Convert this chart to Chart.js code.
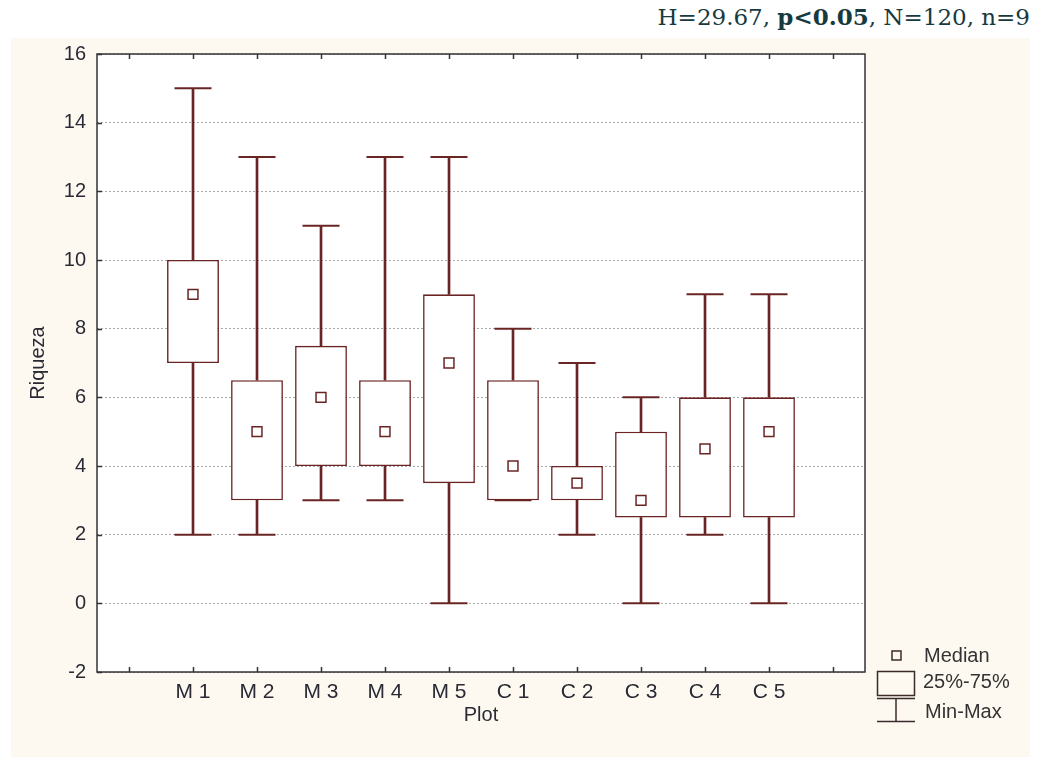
<!DOCTYPE html>
<html>
<head>
<meta charset="utf-8">
<script src="https://cdn.jsdelivr.net/npm/chart.js@4/dist/chart.umd.min.js"></script>
<style>
  html, body { margin: 0; padding: 0; background: #ffffff; }
  #wrap { position: relative; width: 1041px; height: 757px; overflow: hidden; }
  #panel { position: absolute; left: 11px; top: 38px; width: 1019px; height: 719px; background: #fdf9f1; }
  #stats { position: absolute; right: 11px; top: 3px; font-family: "DejaVu Serif", "Liberation Serif", serif;
           font-size: 23px; color: #173a40; white-space: nowrap; }
  #stats b { font-weight: bold; }
  canvas { position: absolute; left: 0; top: 0; }
</style>
</head>
<body>
<div id="wrap">
  <div id="panel"></div>
  <div id="stats">H=29.67, <b>p&lt;0.05</b>, N=120, n=9</div>
  <canvas id="c" width="1041" height="757"></canvas>
</div>
<script>
// Plots sampled and the richness summary for each one
const plots   = ['M 1', 'M 2', 'M 3', 'M 4', 'M 5', 'C 1', 'C 2', 'C 3', 'C 4', 'C 5'];
const mins    = [2, 2, 3, 3, 0, 3, 2, 0, 2, 0];
const q1      = [7, 3, 4, 4, 3.5, 3, 3, 2.5, 2.5, 2.5];
const medians = [9, 5, 6, 5, 7, 4, 3.5, 3, 4.5, 5];
const q3      = [10, 6.5, 7.5, 6.5, 9, 6.5, 4, 5, 6, 6];
const maxs    = [15, 13, 11, 13, 13, 8, 7, 6, 9, 9];
const yTicks  = [-2, 0, 2, 4, 6, 8, 10, 12, 14, 16];

// one empty slot on each side of the plots
const labels = ['', ...plots, ''];
const pad = arr => [null, ...arr, null];

const INK = '#6a2424';
const FRAME = '#333333';
const TEXT = '#2a2a35';
const FONT = 'Liberation Sans, Arial, sans-serif';

const boxData   = pad(plots.map((_, i) => [q1[i], q3[i]]));
const lowWhisk  = pad(plots.map((_, i) => [mins[i], q1[i]]));
const highWhisk = pad(plots.map((_, i) => [q3[i], maxs[i]]));

const plotBackground = {
  id: 'plotBackground',
  beforeDraw(chart) {
    const { ctx, chartArea: a } = chart;
    ctx.save();
    ctx.fillStyle = '#ffffff';
    ctx.fillRect(a.left, a.top, a.right - a.left, a.bottom - a.top);
    ctx.restore();
  }
};

const frameAndTicks = {
  id: 'frameAndTicks',
  afterDraw(chart) {
    const { ctx, chartArea: a, scales: { x, y } } = chart;
    ctx.save();
    ctx.strokeStyle = FRAME;
    ctx.lineWidth = 1.5;
    ctx.strokeRect(a.left, a.top, a.right - a.left, a.bottom - a.top);
    ctx.beginPath();
    x.ticks.forEach((t, i) => {
      const px = Math.round(x.getPixelForTick(i)) + 0.5;
      ctx.moveTo(px, a.bottom); ctx.lineTo(px, a.bottom - 5);
      ctx.moveTo(px, a.top);    ctx.lineTo(px, a.top + 5);
    });
    y.ticks.forEach((t, i) => {
      const py = Math.round(y.getPixelForTick(i)) + 0.5;
      ctx.moveTo(a.left, py); ctx.lineTo(a.left + 5, py);
    });
    ctx.stroke();
    ctx.restore();
  }
};

const keyBox = {
  id: 'keyBox',
  afterDraw(chart) {
    const { ctx } = chart;
    ctx.save();
    ctx.strokeStyle = '#3b2b2b';
    ctx.lineWidth = 1.5;
    // median marker
    ctx.strokeRect(892, 651, 9, 9);
    // interquartile box
    ctx.strokeRect(877.5, 671.5, 37, 24);
    // min-max whisker
    ctx.beginPath();
    ctx.moveTo(877, 698.5); ctx.lineTo(915, 698.5);
    ctx.moveTo(896, 698.5); ctx.lineTo(896, 721.5);
    ctx.moveTo(877, 721.5); ctx.lineTo(915, 721.5);
    ctx.stroke();
    ctx.fillStyle = '#333333';
    ctx.font = '20px ' + FONT;
    ctx.textBaseline = 'middle';
    ctx.fillText('Median', 924, 656);
    ctx.fillText('25%-75%', 923, 682);
    ctx.fillText('Min-Max', 925, 712);
    ctx.restore();
  }
};

new Chart(document.getElementById('c'), {
  type: 'bar',
  data: {
    labels,
    datasets: [
      {
        type: 'line', label: 'Median', data: pad(medians), order: 0,
        showLine: false, pointStyle: 'rect', pointRadius: 7, pointHoverRadius: 7,
        pointBackgroundColor: '#ffffff', pointBorderColor: INK, pointBorderWidth: 1.5
      },
      {
        type: 'line', label: 'Min', data: pad(mins), order: 1,
        showLine: false, pointStyle: 'line', pointRadius: 18.5, pointHoverRadius: 18.5,
        pointBorderColor: INK, pointBorderWidth: 2
      },
      {
        type: 'line', label: 'Max', data: pad(maxs), order: 1,
        showLine: false, pointStyle: 'line', pointRadius: 18.5, pointHoverRadius: 18.5,
        pointBorderColor: INK, pointBorderWidth: 2
      },
      {
        label: '25%-75%', data: boxData, order: 2, grouped: false,
        backgroundColor: '#ffffff', borderColor: INK, borderWidth: 1.6, borderSkipped: false,
        barPercentage: 0.81, categoryPercentage: 1
      },
      {
        label: 'low', data: lowWhisk, order: 3, grouped: false,
        backgroundColor: INK, borderWidth: 0, barThickness: 2
      },
      {
        label: 'high', data: highWhisk, order: 3, grouped: false,
        backgroundColor: INK, borderWidth: 0, barThickness: 2
      }
    ]
  },
  options: {
    responsive: false,
    animation: false,
    devicePixelRatio: 1,
    layout: { padding: { top: 54, right: 176, left: 0, bottom: 0 } },
    plugins: { legend: { display: false }, tooltip: { enabled: false } },
    scales: {
      x: {
        type: 'category',
        offset: true,
        grid: { display: false, drawTicks: false },
        border: { display: false },
        ticks: { color: TEXT, font: { family: FONT, size: 21 }, padding: 8, autoSkip: false, maxRotation: 0 },
        title: { display: true, text: 'Plot', color: TEXT, font: { family: FONT, size: 20 }, padding: { top: 0, bottom: 30 } },
        afterFit(scale) { scale.height = 85; }
      },
      y: {
        min: -2, max: 16,
        afterBuildTicks(scale) { scale.ticks = yTicks.map(v => ({ value: v })); },
        grid: { color: '#a8a8a8', lineWidth: 1, drawTicks: false },
        border: { display: false, dash: [2, 2] },
        ticks: { color: TEXT, font: { family: FONT, size: 20 }, padding: 11 },
        title: { display: true, text: 'Riqueza', color: TEXT, font: { family: FONT, size: 20 }, padding: { top: 26, bottom: 0 } },
        afterFit(scale) { scale.width = 97; }
      }
    }
  },
  plugins: [plotBackground, frameAndTicks, keyBox]
});
</script>
</body>
</html>
